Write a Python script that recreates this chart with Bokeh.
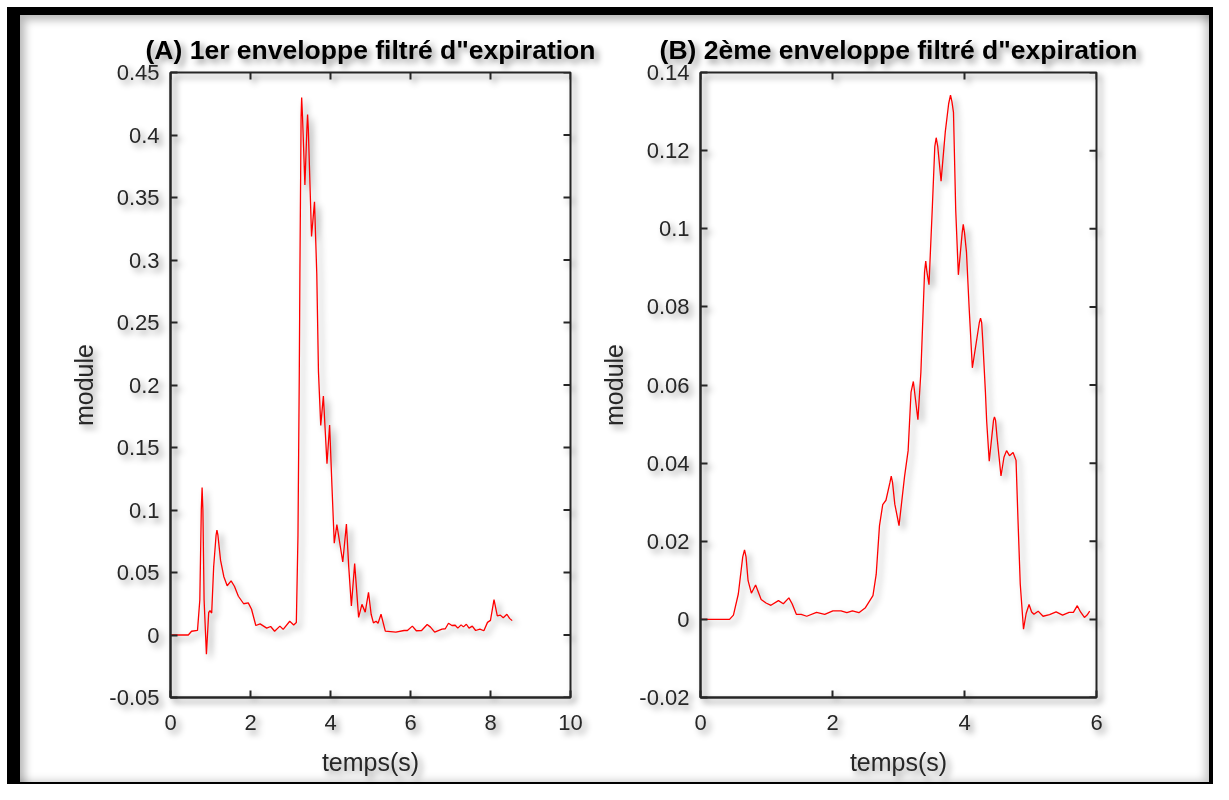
import math
from bokeh.plotting import figure
from bokeh.layouts import row
from bokeh.models import FixedTicker, Range1d
from bokeh.embed import file_html
from bokeh.resources import INLINE

# ---------------- data ----------------
title_A = "(A) 1er enveloppe filtré d\"expiration"
title_B = "(B) 2ème enveloppe filtré d\"expiration"
x_label = "temps(s)"
y_label = "module"

tA = [0.0, 0.445, 0.527, 0.675, 0.733, 0.77, 0.79, 0.81, 0.84, 0.898, 0.955, 0.988, 1.03, 1.079, 1.14, 1.161,
      1.185, 1.252, 1.334, 1.417, 1.515, 1.598, 1.697, 1.829, 1.944, 2.026, 2.133, 2.24, 2.405, 2.504, 2.603,
      2.735, 2.817, 2.981, 3.08, 3.146, 3.187, 3.22, 3.235, 3.265, 3.279, 3.3, 3.36, 3.41, 3.427, 3.445, 3.526,
      3.6, 3.657, 3.699, 3.756, 3.822, 3.912, 3.978, 4.036, 4.094, 4.159, 4.307, 4.398, 4.456, 4.522, 4.604,
      4.703, 4.786, 4.868, 4.95, 5.016, 5.073, 5.139, 5.189, 5.263, 5.37, 5.634, 5.84, 5.923, 6.046, 6.145,
      6.277, 6.417, 6.5, 6.605, 6.787, 6.87, 6.95, 7.035, 7.117, 7.183, 7.265, 7.323, 7.397, 7.463, 7.545,
      7.628, 7.735, 7.834, 7.925, 7.999, 8.088, 8.17, 8.245, 8.319, 8.41, 8.476, 8.542]
yA = [0.0, 0.0, 0.003, 0.0037, 0.028, 0.1, 0.118, 0.1, 0.028, -0.0153, 0.018, 0.0194, 0.0176, 0.0545, 0.08, 0.0839,
      0.08, 0.0597, 0.0466, 0.0394, 0.0433, 0.039, 0.031, 0.025, 0.0257, 0.0206, 0.0076, 0.0089, 0.0055, 0.0068, 0.003,
      0.0071, 0.0045, 0.011, 0.008, 0.010, 0.08, 0.21, 0.289, 0.415, 0.43, 0.415, 0.36, 0.405, 0.4164, 0.405, 0.3188,
      0.3466, 0.289, 0.2107, 0.1677, 0.1912, 0.137, 0.168, 0.1195, 0.0734, 0.0883, 0.0584, 0.0888, 0.0545, 0.0232, 0.0571,
      0.0141, 0.0245, 0.0183, 0.0341, 0.0166, 0.0097, 0.011, 0.0094, 0.0166, 0.0031, 0.0023, 0.0036, 0.0036, 0.0071, 0.0034,
      0.0036, 0.0084, 0.0063, 0.0023, 0.0047, 0.005, 0.0094, 0.0076, 0.0078, 0.0055, 0.0081, 0.0065, 0.0086, 0.0055, 0.0071,
      0.0036, 0.0047, 0.0034, 0.0101, 0.0117, 0.0283, 0.0153, 0.0159, 0.0138, 0.0166, 0.0133, 0.0115]

tB = [0.0, 0.44, 0.499, 0.573, 0.64, 0.667, 0.69, 0.721, 0.771, 0.835, 0.919, 0.993, 1.067, 1.181, 1.255, 1.339, 1.388,
      1.452, 1.526, 1.61, 1.758, 1.882, 2.006, 2.129, 2.218, 2.302, 2.4, 2.499, 2.613, 2.662, 2.712, 2.761,
      2.81, 2.87, 2.89, 2.91, 2.944, 3.008, 3.092, 3.146, 3.19, 3.225, 3.294, 3.339, 3.395, 3.413, 3.43, 3.462, 3.511,
      3.55, 3.571, 3.595, 3.645, 3.709, 3.76, 3.788, 3.81, 3.833, 3.867, 3.907, 3.965, 3.981, 4.0, 4.03, 4.07, 4.119,
      4.225, 4.243, 4.26, 4.277, 4.317, 4.336, 4.375, 4.44, 4.454, 4.47, 4.494, 4.553, 4.598, 4.637, 4.682, 4.736,
      4.781, 4.81, 4.845, 4.894, 4.934, 4.978, 5.017, 5.052, 5.116, 5.19, 5.289, 5.388, 5.486, 5.585, 5.65, 5.709,
      5.758, 5.817, 5.857, 5.897]
yB = [0.0, 0.0, 0.0011, 0.0065, 0.016, 0.0178, 0.016, 0.0099, 0.0067, 0.0088, 0.0051, 0.0042, 0.0036, 0.0048, 0.004,
      0.0055, 0.004, 0.0013, 0.0013, 0.0008, 0.0018, 0.0013, 0.0022, 0.0022, 0.0017, 0.0022, 0.0017, 0.003, 0.0061, 0.0115,
      0.024, 0.0294, 0.0305, 0.035, 0.0367, 0.035, 0.0295, 0.024, 0.0366, 0.0432, 0.0582, 0.0609, 0.0511, 0.0632, 0.089,
      0.0917, 0.089, 0.0857, 0.1048, 0.121, 0.1233, 0.121, 0.1122, 0.1248, 0.132, 0.1342, 0.1325, 0.1298, 0.1048, 0.0882,
      0.099, 0.1011, 0.099, 0.094, 0.0799, 0.0644, 0.076, 0.0771, 0.076, 0.0713, 0.0582, 0.0507, 0.0405, 0.051, 0.0518,
      0.051, 0.0465, 0.0367, 0.0415, 0.0432, 0.0419, 0.0427, 0.0407, 0.0257, 0.009, -0.0025, 0.0015, 0.0038, 0.0019,
      0.0013, 0.0021, 0.0008, 0.0012, 0.0019, 0.0011, 0.0018, 0.0018, 0.0035, 0.0019, 0.0005, 0.0011, 0.0021]

xA_ticks = [0, 2, 4, 6, 8, 10]
xA_labels = ["0", "2", "4", "6", "8", "10"]
yA_ticks = [-0.05, 0.0, 0.05, 0.1, 0.15, 0.2, 0.25, 0.3, 0.35, 0.4, 0.45]
yA_labels = ["-0.05", "0", "0.05", "0.1", "0.15", "0.2", "0.25", "0.3", "0.35", "0.4", "0.45"]
xB_ticks = [0, 2, 4, 6]
xB_labels = ["0", "2", "4", "6"]
yB_ticks = [-0.02, 0.0, 0.02, 0.04, 0.06, 0.08, 0.1, 0.12, 0.14]
yB_labels = ["-0.02", "0", "0.02", "0.04", "0.06", "0.08", "0.1", "0.12", "0.14"]

AX = "#262626"
FONT = "Liberation Sans"
SHADOW = "drop-shadow(4px 4px 3px rgba(0,0,0,0.42))"
H = 784


def make_panel(title, t, y, xr, yr, xt, xl, yt, yl, width, bl, br):
    p = figure(width=width, height=H, output_backend="svg", toolbar_location=None,
               x_range=Range1d(*xr), y_range=Range1d(*yr),
               min_border_left=bl, min_border_right=br, min_border_top=72, min_border_bottom=87,
               background_fill_color=None, border_fill_color=None,
               outline_line_color=AX, outline_line_width=2,
               styles={"filter": SHADOW})
    p.grid.visible = False
    p.title.text = title
    p.title.text_font = FONT
    p.title.text_font_size = "26.5px"
    p.title.text_font_style = "bold"
    p.title.text_color = "#000000"
    p.title.align = "center"
    p.title.standoff = 16

    p.line(t, y, line_color="#ff0000", line_width=1.3)

    # mirrored inner ticks on the right and top edges (half of each dash is clipped away)
    p.scatter([xr[1]] * len(yt), yt, marker="dash", size=14, line_color=AX, line_width=2)
    p.scatter(xt, [yr[1]] * len(xt), marker="dash", angle=math.pi / 2, size=14,
              line_color=AX, line_width=2)

    xo = dict(zip(xt, xl))
    yo = dict(zip(yt, yl))
    for ax in p.xaxis:
        ax.ticker = FixedTicker(ticks=xt)
        ax.major_label_overrides = xo
        ax.axis_label = x_label
        ax.major_label_standoff = 17
        ax.axis_label_standoff = 15
    for ax in p.yaxis:
        ax.ticker = FixedTicker(ticks=yt)
        ax.major_label_overrides = yo
        ax.axis_label = y_label
        ax.major_label_standoff = 11
        ax.axis_label_standoff = 8
    for ax in p.xaxis + p.yaxis:
        ax.axis_line_color = AX
        ax.axis_line_width = 2
        ax.major_tick_line_color = AX
        ax.major_tick_line_width = 2
        ax.major_tick_in = 7
        ax.major_tick_out = 0
        ax.minor_tick_line_color = None
        ax.major_label_text_font = FONT
        ax.major_label_text_font_size = "22px"
        ax.major_label_text_color = AX
        ax.axis_label_text_font = FONT
        ax.axis_label_text_font_size = "25px"
        ax.axis_label_text_font_style = "normal"
        ax.axis_label_text_color = AX
    return p


pA = make_panel(title_A, tA, yA, (0, 10), (-0.05, 0.45), xA_ticks, xA_labels, yA_ticks, yA_labels,
                597, 170, 27)
pB = make_panel(title_B, tB, yB, (0, 6), (-0.02, 0.14), xB_ticks, xB_labels, yB_ticks, yB_labels,
                616, 100, 117)

frame_shadows = ", ".join([
    "inset 7px 7px 0 0 #fff",
    "inset 20px 15px 0 0 #000",
    "inset -4px -2px 0 0 #000",
    "inset 28px 23px 9px -3px rgba(0,0,0,0.28)",
    "inset -11px -6px 9px -3px rgba(0,0,0,0.22)",
])

layout = row(pA, pB, styles={
    "box-shadow": frame_shadows,
    "background-color": "white",
})

open("out.html", "w").write(file_html(layout, INLINE))
